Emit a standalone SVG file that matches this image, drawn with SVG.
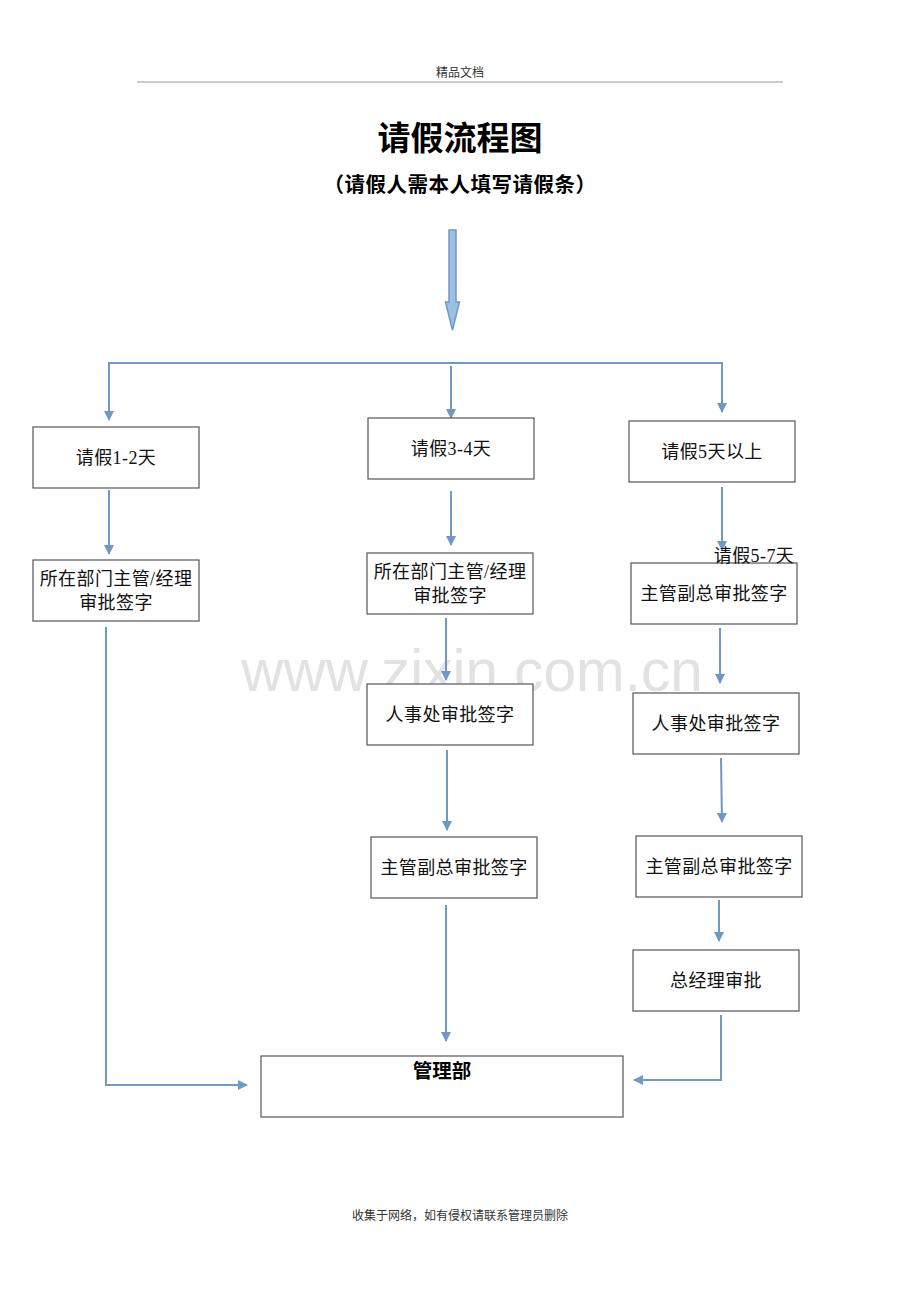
<svg xmlns="http://www.w3.org/2000/svg" width="920" height="1302" viewBox="0 0 920 1302">
<style>
.box{fill:#fff;stroke:#555;stroke-width:1.2}
.t{font-family:"Liberation Serif","Noto Sans CJK SC",serif;font-size:18px;letter-spacing:0.4px;fill:#111;text-anchor:middle}
.c{fill:none;stroke:#6f98c4;stroke-width:2}
.hd{font-family:"Noto Sans CJK SC",sans-serif;fill:#333;text-anchor:middle}
</style>
<defs>
<marker id="ah" viewBox="0 0 10 10" refX="9" refY="5" markerWidth="5" markerHeight="5" orient="auto" markerUnits="strokeWidth">
<path d="M0,0 L10,5 L0,10 z" fill="#6f98c4"/>
</marker>
</defs>
<rect width="920" height="1302" fill="#fff"/>
<g id="header">
<text class="hd" x="460" y="77" font-size="12">精品文档</text>
<line x1="137" y1="82" x2="783" y2="82" stroke="#bbb" stroke-width="1.5"/>
</g>
<g id="title">
<text x="460" y="150" font-family="Noto Sans CJK SC,sans-serif" font-weight="bold" font-size="33" text-anchor="middle" fill="#000">请假流程图</text>
<text x="460" y="192" font-family="Noto Sans CJK SC,sans-serif" font-weight="bold" font-size="20.5" letter-spacing="0.5" text-anchor="middle" fill="#000">（请假人需本人填写请假条）</text>
</g>
<text x="472" y="691" font-family="Liberation Sans,sans-serif" font-size="58.5" fill="#e2e2e2" text-anchor="middle">www.zixin.com.cn</text>
<g id="connectors">
<path d="M449,230 H456 V302 H459.5 L452.5,330 L445.5,302 H449 Z" fill="#9dc1e3" stroke="#6f98c4" stroke-width="1.5"/>
<polyline class="c" points="109,363 722,363 722,412" marker-end="url(#ah)"/>
<line class="c" x1="109" y1="362" x2="109" y2="420" marker-end="url(#ah)"/>
<line class="c" x1="451" y1="366" x2="451" y2="418" marker-end="url(#ah)"/>
<line class="c" x1="109" y1="490" x2="109" y2="554" marker-end="url(#ah)"/>
<polyline class="c" points="106,627 106,1085 247,1085" marker-end="url(#ah)"/>
<line class="c" x1="451" y1="491" x2="451" y2="545" marker-end="url(#ah)"/>
<line class="c" x1="446" y1="618" x2="446" y2="680" marker-end="url(#ah)"/>
<line class="c" x1="447" y1="750" x2="447" y2="830" marker-end="url(#ah)"/>
<line class="c" x1="446" y1="905" x2="446" y2="1041" marker-end="url(#ah)"/>
<line class="c" x1="722" y1="487" x2="722" y2="550" marker-end="url(#ah)"/>
<line class="c" x1="720" y1="628" x2="720" y2="683" marker-end="url(#ah)"/>
<line class="c" x1="721" y1="758" x2="722" y2="822" marker-end="url(#ah)"/>
<line class="c" x1="719" y1="900" x2="719" y2="941" marker-end="url(#ah)"/>
<polyline class="c" points="721,1015 721,1080 634,1080" marker-end="url(#ah)"/>
</g>
<g id="n1"><rect class="box" x="33" y="427" width="166" height="61"/><text class="t" x="116" y="464">请假1-2天</text></g>
<g id="n2"><rect class="box" x="368" y="418" width="166" height="61"/><text class="t" x="451" y="455">请假3-4天</text></g>
<g id="n3"><rect class="box" x="629" y="421" width="166" height="61"/><text class="t" x="712" y="458">请假5天以上</text></g>
<g id="n4"><rect class="box" x="33" y="560" width="166" height="61"/><text class="t" x="116" y="585">所在部门主管/经理</text><text class="t" x="116" y="609">审批签字</text></g>
<g id="n5"><rect class="box" x="367" y="553" width="166" height="61"/><text class="t" x="450" y="578">所在部门主管/经理</text><text class="t" x="450" y="602">审批签字</text></g>
<g id="n6"><rect class="box" x="631" y="563" width="166" height="61"/><text class="t" x="714" y="600">主管副总审批签字</text></g>
<g id="lbl57"><text class="t" x="754" y="562">请假5-7天</text></g>
<g id="n7"><rect class="box" x="367" y="684" width="166" height="61"/><text class="t" x="450" y="721">人事处审批签字</text></g>
<g id="n8"><rect class="box" x="633" y="693" width="166" height="61"/><text class="t" x="716" y="730">人事处审批签字</text></g>
<g id="n9"><rect class="box" x="371" y="837" width="166" height="61"/><text class="t" x="454" y="874">主管副总审批签字</text></g>
<g id="n10"><rect class="box" x="636" y="836" width="166" height="61"/><text class="t" x="719" y="873">主管副总审批签字</text></g>
<g id="n11"><rect class="box" x="633" y="950" width="166" height="61"/><text class="t" x="716" y="987">总经理审批</text></g>
<g id="n12"><rect class="box" x="261" y="1056" width="362" height="61"/><text x="442" y="1078" font-family="Noto Sans CJK SC,sans-serif" font-weight="bold" font-size="19.5" text-anchor="middle" fill="#000">管理部</text></g>
<g id="footer"><text class="hd" x="460" y="1220" font-size="12">收集于网络，如有侵权请联系管理员删除</text></g>
</svg>
